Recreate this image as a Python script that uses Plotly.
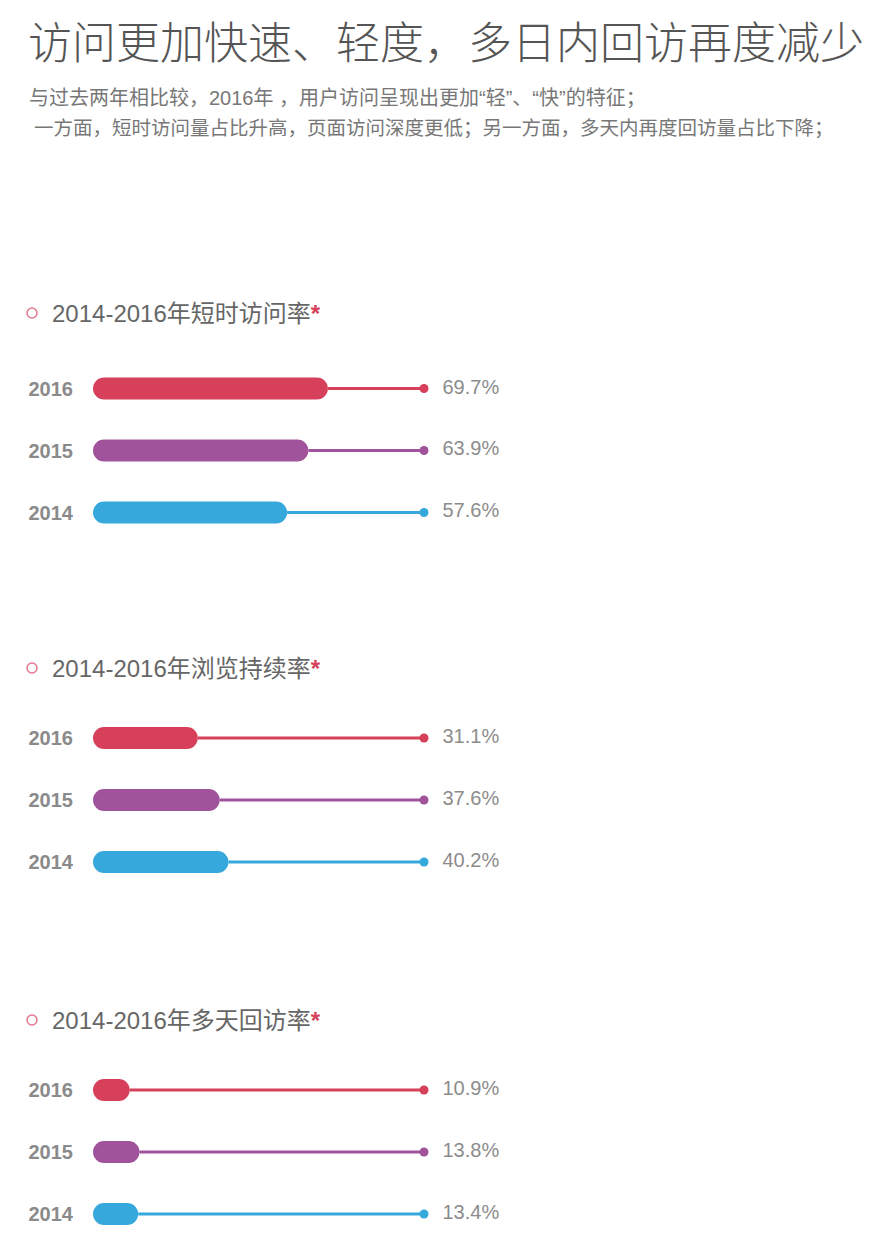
import plotly.graph_objects as go

W, H = 879, 1238

years = ["2014", "2015", "2016"]
colors = {"2016": "#d6405a", "2015": "#a0529b", "2014": "#36a8dc"}

sections = [
    "2014-2016年短时访问率",
    "2014-2016年浏览持续率",
    "2014-2016年多天回访率",
]
short_visit = {"2016": 69.7, "2015": 63.9, "2014": 57.6}
browse_cont = {"2016": 31.1, "2015": 37.6, "2014": 40.2}
multi_day = {"2016": 10.9, "2015": 13.8, "2014": 13.4}
series = [short_visit, browse_cont, multi_day]

title_text = "访问更加快速、轻度，多日内回访再度减少"
sub1 = "与过去两年相比较，2016年 ，用户访问呈现出更加“轻”、“快”的特征；"
sub2 = "一方面，短时访问量占比升高，页面访问深度更低；另一方面，多天内再度回访量占比下降；"

# layout geometry (pixels)
row_mid = [450.5, 800, 1152]
header_y = [313, 668, 1020]
row_gap = 62
x_left_px = 93
px_per_unit = 3.37           # pixels per percentage point
x_right_px = x_left_px + 100 * px_per_unit
TRACK_END = (424 - x_left_px) / px_per_unit   # end of the thin track (style)
BAR_PX = 22

def fy(py):
    return 1 - py / H

def fx(px):
    return px / W

fig = go.Figure()
annotations = []
shapes = []

for i, data in enumerate(series):
    ax = "" if i == 0 else str(i + 1)
    xref, yref = "x" + ax, "y" + ax
    # pill-shaped bars (explicit base -> both ends rounded)
    fig.add_trace(go.Bar(
        x=[data[y] for y in years], y=years, base=[0] * 3,
        orientation="h",
        marker=dict(color=[colors[y] for y in years], line=dict(width=0)),
        width=BAR_PX / row_gap, xaxis=xref, yaxis=yref, showlegend=False,
        hoverinfo="skip",
    ))
    # thin track from bar end to the end dot
    for yr in years:
        fig.add_trace(go.Scatter(
            x=[data[yr], TRACK_END], y=[yr, yr], mode="lines+markers",
            line=dict(color=colors[yr], width=3),
            marker=dict(size=[0, 9], color=colors[yr], opacity=1,
                        line=dict(width=0)),
            xaxis=xref, yaxis=yref, hoverinfo="skip", showlegend=False,
            cliponaxis=False,
        ))
    # value labels
    fig.add_trace(go.Scatter(
        x=[TRACK_END] * 3, y=years, mode="markers+text",
        text=[f"{data[y]:.1f}%" for y in years], textposition="middle right",
        textfont=dict(family="Liberation Sans, Arial", size=20, color="#8c8c8c"),
        marker=dict(size=28, opacity=0),
        xaxis=xref, yaxis=yref, hoverinfo="skip", showlegend=False,
        cliponaxis=False,
    ))
    half = 1.2 * row_gap
    top_px, bot_px = row_mid[i] - half, row_mid[i] + half
    fig.layout["xaxis" + ax] = dict(
        domain=[fx(x_left_px), fx(x_right_px)], range=[0, 100],
        visible=False, anchor=yref, fixedrange=True,
    )
    fig.layout["yaxis" + ax] = dict(
        domain=[fy(bot_px), fy(top_px)], range=[-0.2, 2.2],
        type="category", categoryorder="array", categoryarray=years,
        showgrid=False, zeroline=False, showline=False, ticks="",
        ticklabelstandoff=19, anchor=xref, fixedrange=True,
        tickfont=dict(family="Liberation Sans, Arial", size=20, color="#8a8a8a", weight="bold"),
    )
    # section header
    annotations.append(dict(
        x=fx(50), y=fy(header_y[i]), xref="paper", yref="paper",
        text=sections[i] + "<span style='color:#d6405a'><b>*</b></span>",
        xanchor="left", yanchor="middle", showarrow=False,
        font=dict(family="Liberation Sans, Noto Sans CJK SC", size=24, color="#666666"),
    ))
    shapes.append(dict(
        type="circle", xref="paper", yref="paper",
        x0=fx(27), x1=fx(37), y0=fy(header_y[i] + 5), y1=fy(header_y[i] - 5),
        line=dict(color="#e07a8c", width=1.5),
    ))

annotations.append(dict(
    x=fx(26), y=fy(40), xref="paper", yref="paper", text=title_text,
    xanchor="left", yanchor="middle", showarrow=False,
    font=dict(family="Noto Sans CJK SC", size=44, color="#555555", weight=300),
))
annotations.append(dict(
    x=fx(27), y=fy(98), xref="paper", yref="paper", text=sub1,
    xanchor="left", yanchor="middle", showarrow=False,
    font=dict(family="Liberation Sans, Noto Sans CJK SC", size=20, color="#777777"),
))
annotations.append(dict(
    x=fx(32), y=fy(128), xref="paper", yref="paper", text=sub2,
    xanchor="left", yanchor="middle", showarrow=False,
    font=dict(family="Liberation Sans, Noto Sans CJK SC", size=19.5, color="#777777"),
))

fig.update_layout(
    width=W, height=H, margin=dict(l=0, r=0, t=0, b=0),
    paper_bgcolor="white", plot_bgcolor="white",
    barcornerradius=BAR_PX // 2, annotations=annotations, shapes=shapes,
    showlegend=False,
)

fig.write_html(
    "out.html",
    config={"displayModeBar": False},
    post_script="document.body.style.margin='0';document.body.style.padding='0';",
)
